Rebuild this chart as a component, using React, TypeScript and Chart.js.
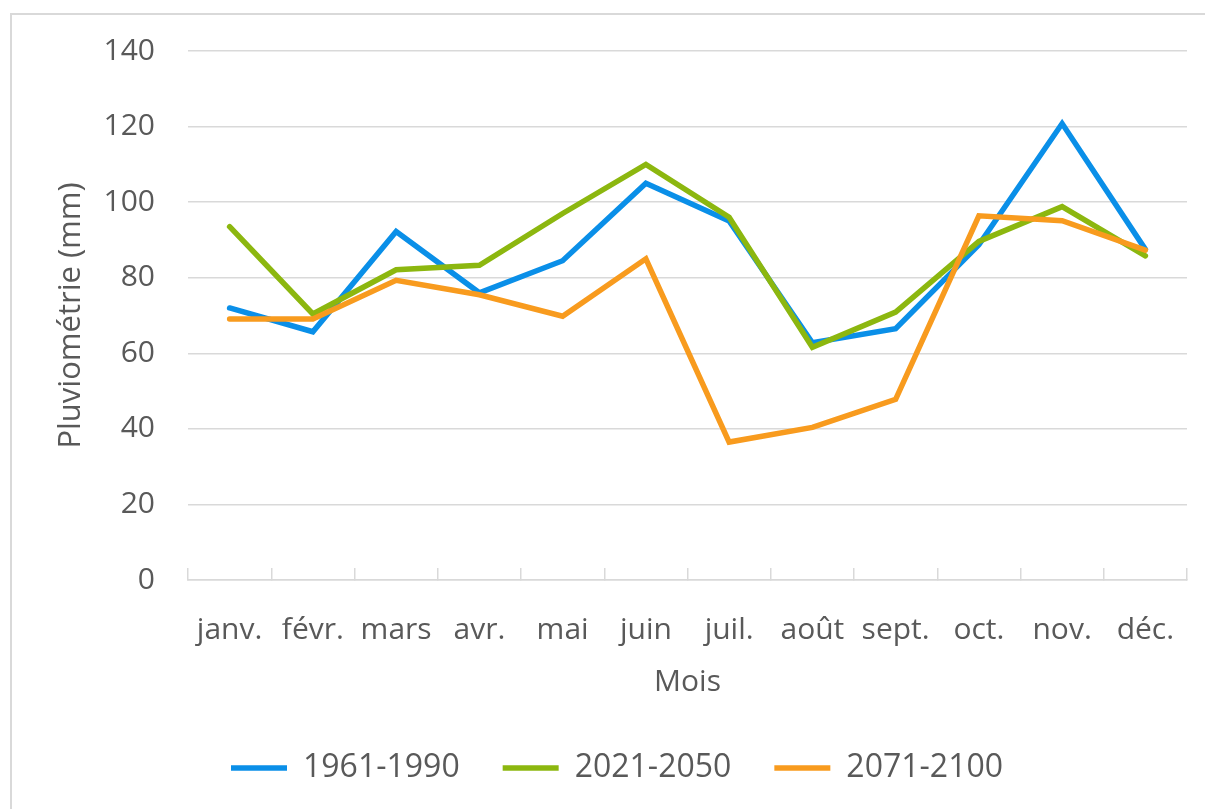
import React, { useEffect, useRef } from "react";
import { Chart, registerables } from "chart.js";

Chart.register(...registerables);

const months = ["janv.", "févr.", "mars", "avr.", "mai", "juin", "juil.", "août", "sept.", "oct.", "nov.", "déc."];
const series1961 = [72, 65.7, 92.2, 76, 84.5, 105, 95, 62.8, 66.5, 88.7, 120.8, 87.5];
const series2021 = [93.5, 70.4, 82.1, 83.3, 97, 110, 96, 61.6, 70.9, 89.6, 98.8, 85.8];
const series2071 = [69.1, 69.1, 79.3, 75.5, 69.8, 85, 36.5, 40.4, 47.8, 96.4, 95.1, 87.3];
const seriesNames = ["1961-1990", "2021-2050", "2071-2100"];
const seriesColors = ["#0a8fe8", "#8cb70f", "#f89b1e"];
const yMin = 0;
const yMax = 140;
const yStep = 20;

const FONT = "'Open Sans', 'Noto Sans', sans-serif";
const TEXT = "#595959";
const GRID = "#d9d9d9";

export default function App() {
  const ref = useRef<HTMLCanvasElement | null>(null);

  useEffect(() => {
    if (!ref.current) return;
    const values = [series1961, series2021, series2071];
    const chart = new Chart(ref.current, {
      type: "line",
      data: {
        labels: months,
        datasets: values.map((v, i) => ({
          label: seriesNames[i],
          data: v,
          borderColor: seriesColors[i],
          backgroundColor: seriesColors[i],
          borderWidth: 5.5,
          pointRadius: 0,
          pointHoverRadius: 0,
          tension: 0,
          borderCapStyle: "round" as const,
          borderJoinStyle: "miter" as const,
          order: 2 - i,
        })),
      },
      options: {
        responsive: false,
        animation: false,
        devicePixelRatio: 1,
        layout: { padding: { left: 10, right: 18, top: 50, bottom: 15 } },
        font: { family: FONT },
        scales: {
          x: {
            type: "category",
            offset: true,
            grid: {
              offset: true,
              drawOnChartArea: false,
              drawTicks: true,
              tickLength: -12,
              color: GRID,
              lineWidth: 1.5,
            },
            border: { display: true, color: GRID, width: 1.5 },
            ticks: {
              color: TEXT,
              font: { family: FONT, size: 30, lineHeight: 3.733 },
              padding: 6,
              maxRotation: 0,
              autoSkip: false,
            },
            title: {
              display: true,
              text: "Mois",
              color: TEXT,
              font: { family: FONT, size: 30 },
              padding: { top: 0, bottom: 9 },
            },
            afterFit: (scale: any) => {
              scale.height = 129;
            },
          },
          y: {
            min: yMin,
            max: yMax,
            grid: { color: GRID, lineWidth: 1.5, drawTicks: false },
            border: { display: false },
            ticks: {
              stepSize: yStep,
              color: TEXT,
              font: { family: FONT, size: 30 },
              padding: 33,
            },
            title: {
              display: true,
              text: "Pluviométrie (mm)",
              color: TEXT,
              font: { family: FONT, size: 31 },
              padding: { top: 43, bottom: 0 },
            },
            afterFit: (scale: any) => {
              scale.width = 178;
            },
          },
        },
        plugins: {
          legend: {
            display: true,
            position: "bottom",
            align: "start",
            fullSize: false,
            labels: {
              usePointStyle: true,
              pointStyle: "line",
              pointStyleWidth: 56,
              boxHeight: 32,
              padding: 43,
              color: TEXT,
              font: { family: FONT, size: 32 },
              sort: (a: any, b: any) => a.datasetIndex - b.datasetIndex,
            },
          },
          tooltip: { enabled: false },
        },
      },
    });
    return () => chart.destroy();
  }, []);

  return (
    <div style={{ position: "absolute", left: 0, top: 0, width: 1205, height: 809, overflow: "hidden", background: "#fff" }}>
      <div
        style={{
          position: "absolute",
          left: 10,
          top: 13,
          width: 1400,
          height: 1000,
          border: `2px solid ${GRID}`,
          boxSizing: "border-box",
        }}
      />
      <canvas ref={ref} width={1205} height={809} style={{ position: "absolute", left: 0, top: 0 }} />
    </div>
  );
}
